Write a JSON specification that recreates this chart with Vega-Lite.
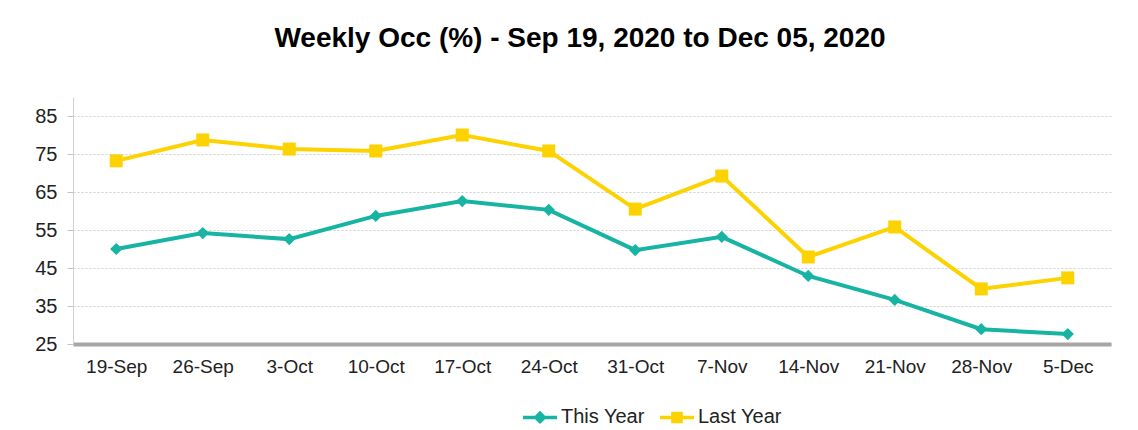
{
  "$schema": "https://vega.github.io/schema/vega-lite/v6.json",
  "width": 1038,
  "height": 247,
  "autosize": {"type": "none"},
  "padding": {"left": 73, "top": 97, "right": 27, "bottom": 86},
  "background": "#ffffff",
  "title": {
    "text": "Weekly Occ (%) - Sep 19, 2020 to Dec 05, 2020",
    "font": "Liberation Sans",
    "fontSize": 28,
    "fontWeight": "bold",
    "color": "#000000",
    "anchor": "middle",
    "dx": -12,
    "offset": 44
  },
  "config": {
    "view": {"stroke": null},
    "font": "Liberation Sans"
  },
  "data": {
    "values": [
      {"week": "19-Sep", "order": 1, "series": "This Year", "value": 50.0},
      {"week": "26-Sep", "order": 2, "series": "This Year", "value": 54.2},
      {"week": "3-Oct", "order": 3, "series": "This Year", "value": 52.6},
      {"week": "10-Oct", "order": 4, "series": "This Year", "value": 58.7},
      {"week": "17-Oct", "order": 5, "series": "This Year", "value": 62.6},
      {"week": "24-Oct", "order": 6, "series": "This Year", "value": 60.3},
      {"week": "31-Oct", "order": 7, "series": "This Year", "value": 49.7},
      {"week": "7-Nov", "order": 8, "series": "This Year", "value": 53.2},
      {"week": "14-Nov", "order": 9, "series": "This Year", "value": 42.9},
      {"week": "21-Nov", "order": 10, "series": "This Year", "value": 36.6},
      {"week": "28-Nov", "order": 11, "series": "This Year", "value": 28.9},
      {"week": "5-Dec", "order": 12, "series": "This Year", "value": 27.6},
      {"week": "19-Sep", "order": 1, "series": "Last Year", "value": 73.2},
      {"week": "26-Sep", "order": 2, "series": "Last Year", "value": 78.7},
      {"week": "3-Oct", "order": 3, "series": "Last Year", "value": 76.3},
      {"week": "10-Oct", "order": 4, "series": "Last Year", "value": 75.8},
      {"week": "17-Oct", "order": 5, "series": "Last Year", "value": 80.0},
      {"week": "24-Oct", "order": 6, "series": "Last Year", "value": 75.8},
      {"week": "31-Oct", "order": 7, "series": "Last Year", "value": 60.5},
      {"week": "7-Nov", "order": 8, "series": "Last Year", "value": 69.2},
      {"week": "14-Nov", "order": 9, "series": "Last Year", "value": 47.9},
      {"week": "21-Nov", "order": 10, "series": "Last Year", "value": 55.8},
      {"week": "28-Nov", "order": 11, "series": "Last Year", "value": 39.5},
      {"week": "5-Dec", "order": 12, "series": "Last Year", "value": 42.4}
    ]
  },
  "encoding": {
    "x": {
      "field": "week",
      "type": "nominal",
      "sort": {"field": "order"},
      "axis": {
        "title": null,
        "labelAngle": 0,
        "labelFontSize": 19,
        "labelColor": "#222222",
        "labelPadding": 13,
        "ticks": false,
        "domainColor": "#a6a6a6",
        "domainWidth": 4,
        "grid": false
      }
    },
    "y": {
      "field": "value",
      "type": "quantitative",
      "scale": {"domain": [25, 90], "nice": false, "zero": false},
      "axis": {
        "title": null,
        "values": [25, 35, 45, 55, 65, 75, 85],
        "labelFontSize": 20,
        "labelColor": "#222222",
        "labelPadding": 10,
        "tickSize": 6,
        "tickColor": "#c4c4c4",
        "domainColor": "#d0d0d0",
        "grid": true,
        "gridColor": "#cfcfcf",
        "gridDash": [2, 2]
      }
    },
    "color": {
      "field": "series",
      "type": "nominal",
      "scale": {"domain": ["This Year", "Last Year"], "range": ["#17b3a3", "#fcd200"]}
    }
  },
  "layer": [
    {
      "mark": {"type": "line", "strokeWidth": 4},
      "encoding": {
        "color": {
          "field": "series",
          "type": "nominal",
          "scale": {"domain": ["This Year", "Last Year"], "range": ["#17b3a3", "#fcd200"]},
          "legend": {
            "orient": "none",
            "legendX": 448,
            "legendY": 301,
            "direction": "horizontal",
            "title": null,
            "labelFontSize": 20,
            "labelColor": "#222222",
            "symbolSize": 1156,
            "symbolStrokeWidth": 3.5,
            "symbolType": "M-1,0H1M-0.25,0L0,-0.25L0.25,0L0,0.25Z",
            "columnPadding": 8,
            "labelOffset": 2,
            "encode": {
              "symbols": {
                "update": {
                  "shape": {"signal": "datum.value === 'This Year' ? 'M-1,0H1M-0.25,0L0,-0.25L0.25,0L0,0.25Z' : 'M-1,0H1M-0.24,-0.24H0.24V0.24H-0.24Z'"},
                  "fillOpacity": {"value": 1}
                }
              }
            }
          }
        }
      }
    },
    {
      "transform": [{"filter": "datum.series === 'This Year'"}],
      "mark": {"type": "point", "filled": true, "opacity": 1, "shape": "diamond", "size": 150},
      "encoding": {
        "color": {"field": "series", "type": "nominal", "legend": null}
      }
    },
    {
      "transform": [{"filter": "datum.series === 'Last Year'"}],
      "mark": {"type": "point", "filled": true, "opacity": 1, "shape": "square", "size": 169},
      "encoding": {
        "color": {"field": "series", "type": "nominal", "legend": null}
      }
    }
  ]
}
